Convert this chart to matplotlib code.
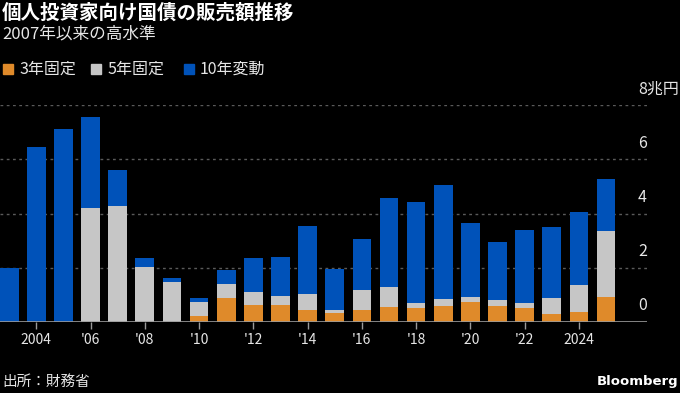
import numpy as np
import matplotlib
matplotlib.use('Agg')
from matplotlib import pyplot as plt
from matplotlib.patches import Rectangle

plt.rcParams['font.family'] = ['Noto Sans CJK JP', 'DejaVu Sans']

# data (兆円)
years = np.arange(2003, 2026)
fixed3 = [0, 0, 0, 0, 0, 0, 0, 0.22, 0.90, 0.63, 0.63, 0.44, 0.32,
          0.44, 0.56, 0.50, 0.59, 0.74, 0.59, 0.50, 0.28, 0.38, 0.92]
fixed5 = [0, 0, 0, 4.22, 4.27, 2.01, 1.49, 0.50, 0.50, 0.46, 0.33, 0.58, 0.12,
          0.74, 0.74, 0.19, 0.25, 0.19, 0.22, 0.19, 0.59, 0.99, 2.42]
float10 = [1.98, 6.46, 7.11, 3.34, 1.35, 0.34, 0.13, 0.18, 0.52, 1.28, 1.45, 2.53, 1.51,
           1.87, 3.26, 3.73, 4.21, 2.73, 2.14, 2.70, 2.62, 2.68, 1.94]
tick_years = np.arange(2004, 2025, 2)
tick_labels = ['2004', "'06", "'08", "'10", "'12", "'14", "'16", "'18", "'20", "'22", '2024']
y_ticks = [0, 2, 4, 6, 8]
y_labels = ['0', '2', '4', '6', '8兆円']

orange = '#DF8A2A'
gray = '#C6C6C6'
blue = '#0052B9'
txt = '#E6E6E6'

fig = plt.figure(figsize=(6.8, 3.93), dpi=100, facecolor='black')
ax = fig.add_axes([0.0, 0.1807, 0.951, 0.552])
ax.set_facecolor('black')

f3 = np.array(fixed3)
f5 = np.array(fixed5)
f10 = np.array(float10)
w = 0.69
ax.bar(years, f3, width=w, color=orange, zorder=3)
ax.bar(years, f5, width=w, bottom=f3, color=gray, zorder=3)
ax.bar(years, f10, width=w, bottom=f3 + f5, color=blue, zorder=3)

ax.set_xlim(2002.66, 2026.5)
ax.set_ylim(0, 8)

for v in y_ticks[1:]:
    ax.axhline(v, color='#5A5A5A', lw=1, ls=(0, (2, 2.5)), zorder=1)
ax.axhline(0, color='#9A9A9A', lw=1.2, zorder=4)

for v, lab in zip(y_ticks, y_labels):
    ax.text(1.0 - 0.0135, v + 0.28, lab, transform=ax.get_yaxis_transform(),
            color=txt, fontsize=11.5, ha='left', va='bottom', clip_on=False)

ax.set_yticks([])
ax.set_xticks(tick_years)
ax.set_xticklabels(tick_labels, color=txt, fontsize=10)
ax.tick_params(axis='x', length=5, color='#9A9A9A', width=1, pad=3)
for s in ax.spines.values():
    s.set_visible(False)

# title, subtitle
fig.text(0.003, 1 - 13 / 393, '個人投資家向け国債の販売額推移', color='white',
         fontsize=14, fontweight='bold', ha='left', va='center')
fig.text(0.003, 1 - 34 / 393, '2007年以来の高水準', color=txt,
         fontsize=12, ha='left', va='center')

# legend
ly = 1 - 69 / 393
for x0, c, lab in [(3, orange, '3年固定'), (91, gray, '5年固定'), (184, blue, '10年変動')]:
    fig.patches.append(Rectangle((x0 / 680, ly - 5 / 393), 10 / 680, 10 / 393,
                                 transform=fig.transFigure, color=c))
    fig.text((x0 + 16) / 680, ly, lab, color=txt, fontsize=11.5, ha='left', va='center')

# footer
fig.text(0.003, 1 - 382 / 393, '出所：財務省', color=txt, fontsize=10.5, ha='left', va='center')
fig.text(0.997, 1 - 381 / 393, 'Bloomberg', color='white', fontsize=9.5,
         fontweight='bold', ha='right', va='center', family=['DejaVu Sans'])

fig.savefig('out.png', dpi=100, facecolor='black')
